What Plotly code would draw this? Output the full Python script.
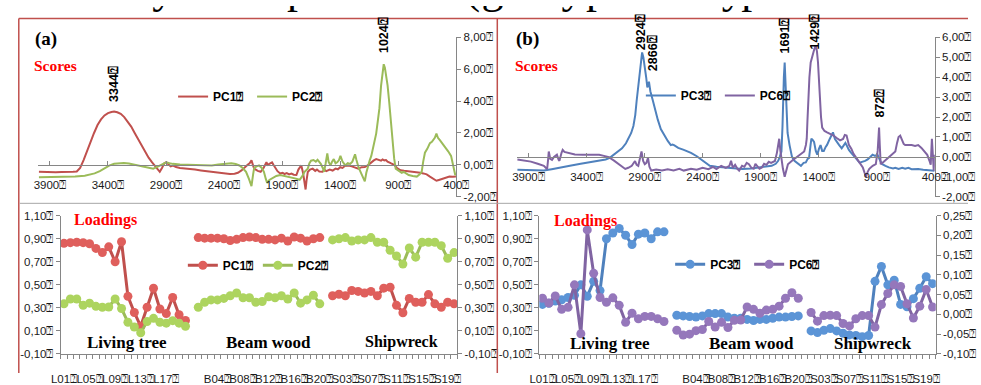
import plotly.graph_objects as go

# ---------------- data ----------------
Q = "\u2370"  # missing-glyph box that follows every label in the original

# Scores spectra (wavenumber, score)
pc1_scores = [(3995,-0.44),(3950,-0.46),(3900,-0.44),(3850,-0.47),(3800,-0.45),(3750,-0.46),(3700,-0.44),(3669,-0.42),
 (3640,-0.2),(3610,0.3),(3580,0.9),(3550,1.5),(3520,2.0),(3490,2.5),(3460,2.85),(3430,3.1),(3400,3.25),(3370,3.32),
 (3347,3.35),(3320,3.3),(3290,3.2),(3260,3.0),(3230,2.7),(3200,2.4),(3170,2.0),(3140,1.6),(3110,1.2),(3080,0.8),
 (3050,0.45),(3020,0.15),(2996,-0.04),(2970,-0.3),(2954,-0.44),(2935,-0.2),(2915,0.1),(2898,0.16),(2880,0.05),
 (2860,-0.1),(2840,-0.05),(2814,-0.14),(2780,-0.2),(2740,-0.22),(2700,-0.25),(2650,-0.3),(2600,-0.35),(2550,-0.4),
 (2500,-0.45),(2450,-0.52),(2394,-0.58),(2350,-0.58),(2310,-0.56),(2281,-0.5),(2250,-0.35),(2220,-0.12),(2197,0.0),
 (2180,0.1),(2164,0.28),(2150,-0.05),(2141,-0.24),(2110,-0.38),(2085,-0.44),(2060,-0.2),(2045,0.05),(2035,0.16),
 (2025,0.0),(2015,0.05),(2000,0.1),(1987,0.16),(1975,0.0),(1959,-0.2),(1940,-0.4),(1917,-0.54),(1895,-0.5),
 (1880,-0.58),(1860,-0.52),(1840,-0.6),(1820,-0.55),(1800,-0.62),(1777,-0.64),(1760,-0.3),(1745,-0.1),(1735,-0.04),
 (1720,-0.5),(1708,-1.1),(1698,-1.55),(1690,-1.0),(1679,-0.45),(1660,-0.3),(1637,-0.24),(1615,-0.38),(1600,-0.3),
 (1580,-0.42),(1553,-0.44),(1535,-0.32),(1520,-0.4),(1490,-0.3),(1465,-0.36),(1440,-0.24),(1420,-0.28),(1400,-0.15),
 (1380,-0.2),(1360,-0.08),(1328,-0.04),(1300,-0.1),(1270,-0.2),(1244,-0.24),(1215,-0.15),(1188,-0.14),(1160,-0.02),
 (1132,0.16),(1110,0.28),(1090,0.36),(1070,0.3),(1048,0.26),(1035,0.34),(1020,0.28),(1005,0.3),(992,0.2),(965,0.1),
 (936,0.0),(910,-0.2),(880,-0.34),(850,-0.38),(820,-0.4),(790,-0.42),(768,-0.44),(740,-0.45),(710,-0.5),(684,-0.54),
 (655,-0.6),(627,-0.74),(600,-0.85),(585,-0.95),(571,-1.0),(550,-0.95),(530,-0.9),(515,-0.84),(490,-0.78),
 (459,-0.74),(430,-0.75),(403,-0.74)]

pc2_scores = [(3995,-0.78),(3900,-0.77),(3800,-0.76),(3700,-0.74),(3683,-0.74),(3600,-0.68),(3550,-0.6),(3515,-0.54),
 (3470,-0.4),(3431,-0.24),(3390,-0.05),(3347,0.06),(3300,0.12),(3263,0.12),(3220,0.08),(3179,0.02),(3120,-0.06),
 (3066,-0.14),(3010,-0.24),(2980,-0.15),(2954,-0.04),(2925,0.1),(2898,0.16),(2870,0.1),(2842,0.06),(2780,0.02),
 (2720,0.0),(2674,0.0),(2600,-0.02),(2506,-0.04),(2450,0.02),(2394,0.06),(2338,0.1),(2300,0.05),(2268,-0.04),
 (2240,-0.2),(2211,-0.44),(2185,-0.9),(2164,-1.34),(2150,-0.6),(2141,-0.2),(2120,-0.1),(2099,-0.04),(2075,-0.2),
 (2057,-0.44),(2040,-0.9),(2029,-1.14),(2010,-0.95),(1987,-0.84),(1950,-0.7),(1917,-0.64),(1880,-0.7),(1833,-0.74),
 (1790,-0.85),(1749,-0.94),(1725,-0.7),(1707,-0.44),(1679,-0.24),(1665,0.1),(1651,0.26),(1630,0.3),(1610,0.2),
 (1595,0.32),(1580,0.2),(1567,0.06),(1550,-0.2),(1539,-0.44),(1525,0.1),(1511,0.72),(1500,0.2),(1483,-0.04),
 (1470,0.2),(1455,0.36),(1440,0.1),(1426,0.16),(1410,0.3),(1398,0.56),(1380,0.2),(1356,-0.04),(1335,0.1),
 (1314,0.06),(1295,0.2),(1282,0.5),(1272,0.66),(1260,0.3),(1240,-0.2),(1215,-0.6),(1200,-0.9),(1188,-1.04),
 (1175,-0.5),(1160,-0.04),(1145,0.3),(1132,0.56),(1110,1.2),(1090,1.96),(1075,2.8),(1062,3.56),(1048,4.96),
 (1035,5.8),(1025,6.32),(1015,6.1),(1006,5.76),(992,5.0),(978,3.96),(965,2.8),(950,1.36),(935,0.4),(922,-0.24),
 (895,-0.35),(870,-0.5),(852,-0.44),(830,-0.55),(810,-0.64),(775,-0.7),(740,-0.74),(715,-0.6),(698,-0.44),
 (685,0.2),(670,0.76),(650,1.0),(627,1.36),(610,1.45),(599,1.56),(585,1.7),(571,1.96),(558,1.7),(543,1.56),
 (520,1.35),(501,1.16),(470,0.85),(445,0.56),(425,-0.04),(409,-0.64),(402,-0.55)]

pc3_scores = [(3995,-0.65),(3900,-0.67),(3767,-0.69),(3700,-0.62),(3620,-0.52),(3543,-0.45),(3450,-0.35),(3380,-0.28),
 (3319,-0.21),(3235,-0.13),(3200,-0.05),(3165,0.11),(3130,0.25),(3094,0.43),(3060,0.68),(3038,0.91),(3015,1.2),
 (2996,1.55),(2980,2.1),(2968,2.82),(2955,3.6),(2940,4.42),(2930,4.9),(2921,5.25),(2910,5.0),(2898,4.58),
 (2886,4.0),(2876,3.49),(2868,3.6),(2862,3.78),(2850,3.3),(2828,2.82),(2808,2.3),(2786,1.87),(2760,1.4),
 (2730,1.07),(2700,0.8),(2674,0.59),(2660,0.62),(2646,0.59),(2610,0.45),(2562,0.35),(2500,0.2),(2450,0.03),
 (2400,-0.2),(2338,-0.45),(2280,-0.5),(2225,-0.53),(2150,-0.57),(2057,-0.61),(1980,-0.58),(1917,-0.53),
 (1860,-0.5),(1805,-0.45),(1770,-0.35),(1749,-0.2),(1735,0.0),(1721,0.27),(1712,1.5),(1707,2.82),(1700,4.0),
 (1693,4.74),(1686,3.8),(1679,2.82),(1668,1.2),(1651,0.59),(1630,0.0),(1609,-0.2),(1580,-0.35),(1553,-0.45),
 (1530,-0.3),(1511,-0.28),(1495,-0.1),(1483,-0.05),(1470,0.6),(1463,0.91),(1452,0.85),(1440,0.75),(1425,0.3),
 (1412,0.11),(1398,0.4),(1384,0.59),(1370,0.3),(1356,0.3),(1340,0.5),(1328,0.6),(1305,0.9),(1290,1.1),
 (1277,1.23),(1260,0.9),(1244,0.75),(1225,0.6),(1202,0.43),(1185,0.55),(1170,0.7),(1160,0.59),(1140,0.35),
 (1120,0.2),(1104,0.11),(1075,-0.1),(1048,-0.29),(1020,-0.25),(1000,-0.2),(978,-0.13),(955,0.0),(936,0.11),
 (915,0.05),(894,0.11),(870,-0.2),(852,-0.37),(825,-0.45),(796,-0.53),(760,-0.58),(740,-0.55),(712,-0.61),
 (680,-0.55),(655,-0.6),(627,-0.55),(600,-0.62),(570,-0.6),(543,-0.61),(500,-0.65),(460,-0.66),(417,-0.69),
 (402,-0.7)]

pc6_scores = [(3995,-0.13),(3940,-0.18),(3879,-0.24),(3820,-0.35),(3767,-0.45),(3745,-0.58),(3739,-0.61),(3730,-0.1),
 (3725,0.27),(3712,-0.1),(3697,-0.15),(3680,0.0),(3655,0.11),(3640,-0.15),(3633,-0.2),(3615,0.2),(3605,0.35),
 (3590,0.25),(3557,0.19),(3500,0.12),(3431,0.11),(3360,0.1),(3291,0.11),(3250,0.05),(3207,-0.02),(3160,-0.2),
 (3123,-0.37),(3090,-0.5),(3066,-0.61),(3040,-0.55),(3010,-0.45),(2982,-0.21),(2968,-0.4),(2954,-0.45),
 (2940,-0.1),(2926,0.27),(2912,-0.2),(2898,-0.37),(2884,-0.3),(2870,-0.05),(2858,-0.5),(2842,-0.69),(2800,-0.64),
 (2750,-0.69),(2700,-0.62),(2650,-0.68),(2600,-0.6),(2562,-0.69),(2500,-0.6),(2450,-0.65),(2400,-0.55),
 (2350,-0.62),(2310,-0.5),(2281,-0.61),(2240,-0.45),(2200,-0.55),(2169,-0.45),(2155,-0.2),(2140,-0.55),
 (2120,-0.4),(2100,-0.6),(2085,-0.69),(2060,-0.45),(2040,-0.5),(2020,-0.3),(2001,-0.37),(1980,-0.55),(1960,-0.6),
 (1945,-0.35),(1930,-0.45),(1910,-0.6),(1889,-0.53),(1870,-0.35),(1850,-0.4),(1830,-0.25),(1810,-0.3),
 (1777,-0.21),(1760,0.2),(1748,0.6),(1740,0.91),(1730,0.3),(1721,-0.1),(1708,-0.6),(1693,-1.0),(1680,-0.7),
 (1665,-0.37),(1630,-0.2),(1595,-0.05),(1560,0.1),(1540,0.2),(1525,0.27),(1510,0.6),(1503,0.91),(1497,1.8),
 (1491,2.82),(1480,4.0),(1469,4.74),(1455,5.1),(1440,5.37),(1426,5.61),(1415,5.3),(1406,4.74),(1398,3.8),
 (1390,2.82),(1380,2.0),(1370,1.47),(1350,1.3),(1328,1.23),(1300,1.15),(1272,1.07),(1245,0.95),(1216,0.83),
 (1190,0.9),(1175,1.1),(1160,1.07),(1140,0.6),(1118,0.4),(1100,0.15),(1076,-0.05),(1050,-0.3),(1020,-0.53),
 (1005,-0.8),(992,-1.0),(978,-0.75),(964,-0.6),(935,-0.45),(908,-0.37),(892,0.3),(884,1.2),(880,1.47),(874,0.6),
 (866,-0.37),(840,-0.25),(820,-0.15),(796,-0.05),(770,0.1),(755,0.2),(740,0.27),(725,0.7),(712,1.0),(698,1.07),
 (680,0.8),(668,0.65),(655,0.59),(630,0.6),(599,0.59),(570,0.55),(543,0.59),(515,0.45),(487,0.27),(465,0.1),
 (445,-0.21),(435,-0.4),(425,0.91),(418,0.2),(409,-0.69),(402,0.11)]

# Loadings: samples (None = empty slot between groups)
living = ["L%02d" % i for i in range(1, 21)]
beam = ["B%02d" % i for i in range(1, 21)]
ship = ["S%02d" % i for i in range(1, 21)]
samples = living + [None] + beam + [None] + ship

pc1_L = [0.86,0.866,0.87,0.866,0.857,0.816,0.78,0.83,0.70,0.874,0.40,0.26,0.14,0.305,0.47,0.29,0.25,0.39,0.24,0.19]
pc1_B = [0.91,0.905,0.905,0.905,0.90,0.885,0.895,0.91,0.915,0.91,0.895,0.895,0.89,0.905,0.88,0.915,0.905,0.88,0.90,0.91]
pc1_S = [0.405,0.418,0.405,0.451,0.443,0.429,0.443,0.405,0.471,0.479,0.322,0.258,0.382,0.349,0.349,0.415,0.335,0.305,0.349,0.335]
pc2_L = [0.335,0.377,0.377,0.322,0.341,0.313,0.305,0.308,0.377,0.294,0.175,0.134,0.084,0.181,0.209,0.175,0.167,0.189,0.167,0.14]
pc2_B = [0.305,0.349,0.369,0.369,0.382,0.405,0.429,0.388,0.388,0.349,0.355,0.396,0.388,0.405,0.377,0.429,0.341,0.369,0.41,0.335]
pc2_S = [0.89,0.90,0.91,0.88,0.89,0.89,0.91,0.87,0.87,0.80,0.75,0.68,0.82,0.74,0.87,0.87,0.87,0.84,0.73,0.78]
pc3_L = [0.33,0.34,0.36,0.37,0.39,0.41,0.50,0.40,0.53,0.45,0.90,0.95,0.99,0.93,0.85,0.94,0.95,0.90,0.96,0.96]
pc3_B = [0.236,0.23,0.225,0.22,0.23,0.25,0.25,0.25,0.22,0.21,0.21,0.20,0.19,0.20,0.20,0.21,0.22,0.22,0.225,0.23]
pc3_S = [0.10,0.085,0.105,0.12,0.10,0.08,0.065,0.06,0.05,0.06,0.53,0.66,0.50,0.54,0.33,0.31,0.38,0.47,0.57,0.51]
pc6_L = [0.041,0.029,0.047,0.013,0.018,0.075,-0.049,0.214,0.104,0.043,0.031,0.042,0.023,-0.020,0.003,-0.011,-0.005,-0.005,-0.011,-0.018]
pc6_B = [-0.04,-0.052,-0.05,-0.041,-0.038,-0.018,-0.032,-0.02,-0.033,-0.015,-0.014,0.019,0.013,0.003,0.011,0.013,0.021,0.041,0.055,0.041]
pc6_S = [0.005,-0.017,-0.003,-0.002,-0.003,-0.023,-0.029,-0.011,-0.003,-0.003,-0.032,0.025,0.053,0.075,0.071,0.027,-0.009,0.021,0.063,0.019]

wn_ticks = [3900, 3400, 2900, 2400, 1900, 1400, 900, 400]
scores_a_ticks = [-2, 0, 2, 4, 6, 8]
scores_b_ticks = [-2, -1, 0, 1, 2, 3, 4, 5, 6]
load_ticks = [-0.1, 0.1, 0.3, 0.5, 0.7, 0.9, 1.1]
pc6_ticks = [-0.1, -0.05, 0, 0.05, 0.1, 0.15, 0.2, 0.25]

# descenders of the clipped line of page text above the figure
header_glyphs = ["y", "p", "(", "g", "y", "p", "y", "p"]

# ---------------- helpers ----------------
W, H = 981, 385
def fx(p): return p / W
def fy(p): return 1 - p / H

def unzip(pairs):
    return [p[0] for p in pairs], [p[1] for p in pairs]

def join(a, b, c):
    return a + [None] + b + [None] + c

def comma(v, nd=2):
    s = ("%." + str(nd) + "f") % v
    return s.replace(".", ",") + Q

idx = list(range(1, len(samples) + 1))
label_idx = [i for i in idx if (i - 1) % 4 == 0]
label_txt = [(samples[i - 1] + Q) if samples[i - 1] else "" for i in label_idx]

RED, GREEN, BLUE, PURPLE = "#c0504d", "#9bbb59", "#4f81bd", "#8064a2"
MRED, MGREEN, MBLUE, MPURPLE = "#df5f5c", "#add45f", "#5b94d6", "#9577bb"
AX = "#868686"
TICKF = dict(family="Liberation Sans", size=11.5, color="#1a1a1a")

fig = go.Figure()

def spec(pairs, name, color, xa, ya, leg):
    x, y = unzip(pairs)
    fig.add_trace(go.Scatter(x=x, y=y, mode="lines", name="<b>%s%s</b>" % (name, Q),
                             line=dict(color=color, width=2), xaxis=xa, yaxis=ya, legend=leg))

spec(pc1_scores, "PC1", RED, "x", "y", "legend")
spec(pc2_scores, "PC2", GREEN, "x", "y", "legend")
spec(pc3_scores, "PC3", BLUE, "x2", "y2", "legend2")
spec(pc6_scores, "PC6", PURPLE, "x2", "y2", "legend2")

def load(vals, name, color, mcolor, xa, ya, leg):
    fig.add_trace(go.Scatter(x=idx, y=vals, mode="lines+markers", name="<b>%s%s</b>" % (name, Q),
                             line=dict(color=color, width=3),
                             marker=dict(size=9, color=mcolor, line=dict(width=0)),
                             xaxis=xa, yaxis=ya, legend=leg))

load(join(pc1_L, pc1_B, pc1_S), "PC1", RED, MRED, "x3", "y3", "legend3")
load(join(pc2_L, pc2_B, pc2_S), "PC2", GREEN, MGREEN, "x3", "y4", "legend3")
load(join(pc3_L, pc3_B, pc3_S), "PC3", BLUE, MBLUE, "x4", "y5", "legend4")
load(join(pc6_L, pc6_B, pc6_S), "PC6", PURPLE, MPURPLE, "x4", "y6", "legend4")

# clipped page text: glyphs sit just above a 12-px strip, so only their descenders show
HS = 44
fig.add_trace(go.Scatter(x=[157, 295, 474, 494, 576, 601, 740, 760], y=[-0.35 * HS + 1] * len(header_glyphs),
                         mode="text", text=header_glyphs, textposition="middle center", cliponaxis=True,
                         textfont=dict(family="Liberation Serif", size=HS, color="#000"),
                         xaxis="x5", yaxis="y7", showlegend=False, hoverinfo="skip"))

top_dom = [fy(200), fy(33)]
bot_dom = [fy(365), fy(220)]

def zero_pos(rng, dom):
    return dom[0] + (0 - rng[0]) / (rng[1] - rng[0]) * (dom[1] - dom[0])

ya_rng, yb_rng = [-2, 8], [-2, 6]
xspec = dict(range=[4000, 400], anchor="free", showline=True, linecolor=AX, linewidth=1,
             ticks="inside", ticklen=4, tickcolor=AX, tickvals=wn_ticks,
             ticktext=[str(v) + Q for v in wn_ticks], tickfont=TICKF, showgrid=False,
             zeroline=False, ticklabelstandoff=9)
yspec = dict(side="right", showline=True, linecolor=AX, ticks="outside", ticklen=4, tickcolor=AX,
             tickfont=TICKF, showgrid=False, zeroline=False)
xload = dict(range=[0.5, len(samples) + 0.5], showline=True, linecolor=AX, showgrid=False, zeroline=False,
             tickvals=label_idx, ticktext=label_txt, ticks="", tickangle=0, tickfont=TICKF,
             ticklabelstandoff=14,
             minor=dict(tickvals=[i + 0.5 for i in range(0, len(samples) + 1)], ticks="outside",
                        ticklen=4, tickcolor=AX))
yload = dict(showline=True, linecolor=AX, ticks="outside", ticklen=4, tickcolor=AX, tickfont=TICKF,
             showgrid=False, zeroline=False)

fig.update_layout(
    xaxis=dict(domain=[fx(29), fx(457)], position=zero_pos(ya_rng, top_dom), **xspec),
    yaxis=dict(domain=top_dom, range=ya_rng, anchor="x", tickvals=scores_a_ticks,
               ticktext=[comma(v) for v in scores_a_ticks], **yspec),
    xaxis2=dict(domain=[fx(519), fx(947)], position=zero_pos(yb_rng, top_dom), **xspec),
    yaxis2=dict(domain=top_dom, range=yb_rng, anchor="x2", tickvals=scores_b_ticks,
                ticktext=[comma(v) for v in scores_b_ticks], **yspec),
    xaxis3=dict(domain=[fx(52), fx(458)], anchor="y3", **xload),
    yaxis3=dict(domain=bot_dom, range=[-0.1, 1.1], anchor="x3", side="left", tickvals=load_ticks,
                ticktext=[comma(v) for v in load_ticks], **yload),
    yaxis4=dict(range=[-0.1, 1.1], anchor="x3", overlaying="y3", side="right", tickvals=load_ticks,
                ticktext=[comma(v) for v in load_ticks], **yload),
    xaxis4=dict(domain=[fx(542), fx(948)], anchor="y5", **xload),
    yaxis5=dict(domain=bot_dom, range=[-0.1, 1.1], anchor="x4", side="left", tickvals=load_ticks,
                ticktext=[comma(v) for v in load_ticks], **yload),
    yaxis6=dict(range=[-0.1, 0.25], anchor="x4", overlaying="y5", side="right", tickvals=pc6_ticks,
                ticktext=[comma(v) for v in pc6_ticks], **yload),
    xaxis5=dict(domain=[0, 1], range=[0, W], visible=False, anchor="y7", fixedrange=True),
    yaxis7=dict(domain=[fy(12), 1], range=[12, 0], visible=False, anchor="x5", fixedrange=True),
)

legfont = dict(family="Liberation Sans", size=12, color="#000")
def leg(x, y, ew):
    return dict(x=fx(x), y=fy(y), xanchor="left", yanchor="middle", orientation="h",
                bgcolor="rgba(0,0,0,0)", font=legfont, entrywidth=ew, itemclick=False)

fig.update_layout(legend=leg(167, 95, 34), legend2=leg(646, 94, 34),
                  legend3=leg(177, 272, 30), legend4=leg(676, 271, 34))

anns = []
def txt(text, x, y, size, color="#000", family="Liberation Serif", xanchor="left"):
    anns.append(dict(text=text, x=fx(x), y=fy(y), xref="paper", yref="paper", xanchor=xanchor,
                     yanchor="middle", showarrow=False, font=dict(family=family, size=size, color=color)))

for off, tag in [(0, "(a)"), (492, "(b)")]:
    txt("<b>%s</b>" % tag, 24 + off, 35, 19)
    txt("<b>Scores</b>", 23 + off, 62, 15.5, color="#ff0000")
txt("<b>Loadings</b>", 64, 225, 16, color="#ff0000")
txt("<b>Loadings</b>", 555, 226, 16, color="#ff0000")
for cx, cy, t, s in [(120, 353, "Living tree", 17), (265, 353, "Beam wood", 17), (401, 353, "Shipwreck", 16),
                     (614, 354, "Living tree", 17), (759, 354, "Beam wood", 17), (884, 354, "Shipwreck", 17)]:
    txt("<b>%s</b>" % t, cx, cy, s, xanchor="center")

def peak(x, y, xa, ya, yshift, xshift=0):
    anns.append(dict(text="<b>%d%s</b>" % (x, Q), x=x, y=y, xref=xa, yref=ya, xanchor="center",
                     yanchor="bottom", yshift=yshift, xshift=xshift, textangle=-90, showarrow=False,
                     font=dict(family="Liberation Sans", size=12.5, color="#000")))

peak(3344, 3.35, "x", "y", 8)
peak(1024, 6.32, "x", "y", 9)
peak(2924, 5.25, "x2", "y2", 0)
peak(2866, 3.78, "x2", "y2", 9, 4)
peak(1691, 4.74, "x2", "y2", 7)
peak(1429, 5.61, "x2", "y2", -6)
peak(872, 1.47, "x2", "y2", 7.5)

BORDER = "#c0504d"
shapes = [
    dict(type="line", xref="paper", yref="paper", x0=fx(9), x1=1, y0=fy(13), y1=fy(13),
         line=dict(color=BORDER, width=1.5)),
    dict(type="line", xref="paper", yref="paper", x0=fx(9), x1=fx(9), y0=0, y1=fy(13),
         line=dict(color=BORDER, width=1.5)),
    dict(type="line", xref="paper", yref="paper", x0=fx(499), x1=fx(499), y0=0, y1=fy(13),
         line=dict(color=BORDER, width=1.5)),
    dict(type="line", xref="paper", yref="paper", x0=fx(10), x1=1, y0=fy(207), y1=fy(207),
         line=dict(color="#a6a6a6", width=1)),
]

fig.update_layout(width=W, height=H, margin=dict(l=0, r=0, t=0, b=0), paper_bgcolor="white",
                  plot_bgcolor="rgba(0,0,0,0)", annotations=anns, shapes=shapes, hovermode=False)

fig.write_html("out.html", config={"displayModeBar": False},
               post_script="document.body.style.margin='0px';document.documentElement.style.overflow='hidden';")
